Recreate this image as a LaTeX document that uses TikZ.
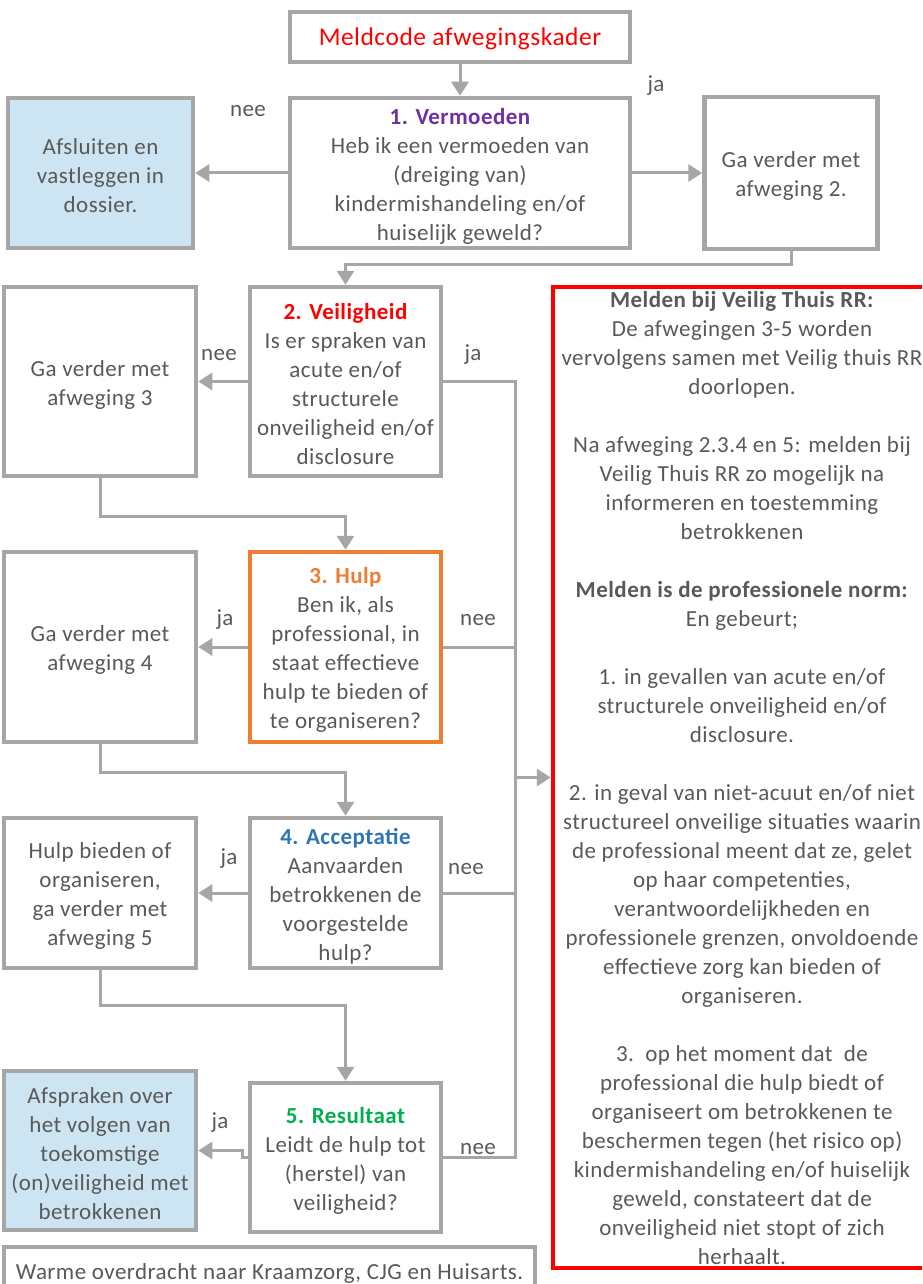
\documentclass[tikz,border=0pt]{standalone}
\usepackage{fontspec}
\setmainfont{Carlito}[LetterSpace=2]
\usetikzlibrary{arrows.meta}
\definecolor{txt}{HTML}{595959}
\definecolor{bord}{HTML}{A6A6A6}
\definecolor{lblue}{HTML}{CDE5F2}
\definecolor{cpurple}{HTML}{7030A0}
\definecolor{cred}{HTML}{FF0000}
\definecolor{corange}{HTML}{ED7D31}
\definecolor{cblue}{HTML}{2E75B6}
\definecolor{cgreen}{HTML}{00B050}
\begin{document}
\begin{tikzpicture}[x=1pt,y=-1pt,
  font=\fontsize{23}{29}\selectfont,
  box/.style={draw=bord, line width=4.5pt, inner sep=0pt, fill=white},
  tl/.style={text=txt, align=center, inner sep=0pt, yshift=-3pt},
  conn/.style={draw=bord, line width=3pt},
  arr/.style={conn, -{Triangle[length=14pt,width=17pt]}},
  lbl/.style={text=txt, inner sep=0pt}]
\useasboundingbox (0,0) rectangle (922,1284);
\clip (0,0) rectangle (922,1284);

% boxes
\node[box, minimum width=340pt, minimum height=50pt,
  label={[tl, yshift=1pt, font=\fontsize{25.5}{29}\selectfont, text=cred]center:Meldcode afwegingskader}] (title) at (460,37) {};
\node[box, minimum width=340pt, minimum height=150pt,
  label={[tl]center:{\textbf{\color{cpurple}1. Vermoeden}\\Heb ik een vermoeden van\\(dreiging van)\\kindermishandeling en/of\\huiselijk geweld?}}] (b1) at (460,173) {};
\node[box, fill=lblue, minimum width=185pt, minimum height=150pt,
  label={[tl]center:{Afsluiten en\\vastleggen in\\dossier.}}] (afs) at (100.5,173) {};
\node[box, minimum width=173pt, minimum height=152pt,
  label={[tl]center:{Ga verder met\\afweging 2.}}] (ga2) at (791,173) {};

\node[box, minimum width=191pt, minimum height=189pt,
  label={[tl]center:{\textbf{\color{cred}2. Veiligheid}\\Is er spraken van\\acute en/of\\structurele\\onveiligheid en/of\\disclosure}}] (b2) at (345.5,381.5) {};
\node[box, minimum width=192pt, minimum height=189pt,
  label={[tl]center:{Ga verder met\\afweging 3}}] (ga3) at (100,381.5) {};

\node[box, draw=corange, minimum width=191pt, minimum height=190pt,
  label={[tl]center:{\textbf{\color{corange}3. Hulp}\\Ben ik, als\\professional, in\\staat effectieve\\hulp te bieden of\\te organiseren?}}] (b3) at (345.5,647) {};
\node[box, minimum width=192pt, minimum height=190pt,
  label={[tl]center:{Ga verder met\\afweging 4}}] (ga4) at (100,647) {};

\node[box, minimum width=191pt, minimum height=150pt,
  label={[tl]center:{\textbf{\color{cblue}4. Acceptatie}\\Aanvaarden\\betrokkenen de\\voorgestelde\\hulp?}}] (b4) at (345.5,893) {};
\node[box, minimum width=192pt, minimum height=150pt,
  label={[tl]center:{Hulp bieden of\\organiseren,\\ga verder met\\afweging 5}}] (hb) at (100,893) {};

\node[box, minimum width=191pt, minimum height=149pt,
  label={[tl]center:{\textbf{\color{cgreen}5. Resultaat}\\Leidt de hulp tot\\(herstel) van\\veiligheid?}}] (b5) at (345.5,1157.5) {};
\node[box, fill=lblue, minimum width=192pt, minimum height=159pt,
  label={[tl]center:{Afspraken over\\het volgen van\\toekomstige\\(on)veiligheid met\\betrokkenen}}] (afp) at (100,1150.5) {};

\node[box, minimum width=531pt, minimum height=53pt] (warm) at (269.5,1273.5) {};
\node[lbl] (warmtxt) at (269.5,1273) {Warme overdracht naar Kraamzorg, CJG en Huisarts.};

\node[box, draw=cred, minimum width=378pt, minimum height=981pt,
  label={[tl, yshift=2pt]center:{\textbf{Melden bij Veilig Thuis RR:}\\De afwegingen 3-5 worden\\vervolgens samen met Veilig thuis RR\\doorlopen.\\[29pt]
   Na afweging 2.3.4 en 5: melden bij\\Veilig Thuis RR zo mogelijk na\\informeren en toestemming\\betrokkenen\\[29pt]
   \textbf{Melden is de professionele norm:}\\En gebeurt;\\[29pt]
   1. in gevallen van acute en/of\\structurele onveiligheid en/of\\disclosure.\\[29pt]
   2. in geval van niet-acuut en/of niet\\structureel onveilige situaties waarin\\de professional meent dat ze, gelet\\op haar competenties,\\verantwoordelijkheden en\\professionele grenzen, onvoldoende\\effectieve zorg kan bieden of\\organiseren.\\[29pt]
   3.\ \ op het moment dat\ \ de\\professional die hulp biedt of\\organiseert om betrokkenen te\\beschermen tegen (het risico op)\\kindermishandeling en/of huiselijk\\geweld, constateert dat de\\onveiligheid niet stopt of zich\\herhaalt.}}] (red) at (742,777.5) {};

% connectors
\draw[arr] (title.south) -- (b1.north);
\draw[arr] (b1.west) -- (afs.east);
\draw[arr] (b1.east) -- (ga2.west);
\draw[arr] (ga2.south) -- ++(0,13) -| (b2.north);
\draw[arr] (b2.west) -- (ga3.east);
\draw[arr] (ga3.south) -- ++(0,38) -| (b3.north);
\draw[arr] (b3.west) -- (ga4.east);
\draw[arr] (ga4.south) -- ++(0,28) -| (b4.north);
\draw[arr] (b4.west) -- (hb.east);
\draw[arr] (hb.south) -- ++(0,35) -| (b5.north);
\draw[arr] (b5.west) -- ++(-5,0) |- (afp.east);

\coordinate (t2) at (515,381.5);
\coordinate (t3) at (515,647);
\coordinate (t4) at (515,893);
\coordinate (t5) at (515,1157.5);
\coordinate (tr) at (515,777.5);
\draw[conn] (b2.east) -- (t2) -- (t5) -- (b5.east);
\draw[conn] (b3.east) -- (t3);
\draw[conn] (b4.east) -- (t4);
\draw[arr] (tr) -- (red.west);

% labels
\node[lbl] (l1) at (248,111) {nee};
\node[lbl] (l2) at (656,86) {ja};
\node[lbl] (l3) at (219,355) {nee};
\node[lbl] (l4) at (473,355) {ja};
\node[lbl] (l5) at (225,620) {ja};
\node[lbl] (l6) at (478,620) {nee};
\node[lbl] (l7) at (229,859) {ja};
\node[lbl] (l8) at (466,869) {nee};
\node[lbl] (l9) at (220,1123) {ja};
\node[lbl] (l10) at (478,1149) {nee};
\end{tikzpicture}
\end{document}
